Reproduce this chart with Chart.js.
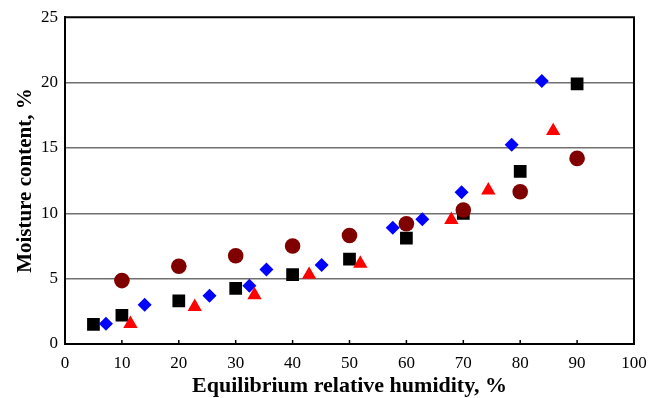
<!DOCTYPE html>
<html>
<head>
<meta charset="utf-8">
<script src="https://cdn.jsdelivr.net/npm/chart.js@4/dist/chart.umd.min.js"></script>
<style>
  html, body { margin: 0; padding: 0; background: #fff; }
  #wrap { width: 661px; height: 398px; }
</style>
</head>
<body>
<div id="wrap"><canvas id="chart"></canvas></div>
<script>
// Moisture content vs equilibrium relative humidity, four sample series.

const SERIF = 'Liberation Serif';

const squareX = [5, 10, 20, 30, 40, 50, 60, 70, 80, 90];
const squareY = [1.5, 2.2, 3.3, 4.25, 5.3, 6.5, 8.1, 10.0, 13.2, 19.9];

const circleX = [10, 20, 30, 40, 50, 60, 70, 80, 90];
const circleY = [4.85, 5.95, 6.75, 7.5, 8.3, 9.2, 10.25, 11.65, 14.2];

const diamondX = [7.2, 14.0, 25.4, 32.4, 35.4, 45.1, 57.6, 62.8, 69.7, 78.5, 83.8];
const diamondY = [1.55, 3.0, 3.7, 4.45, 5.7, 6.05, 8.9, 9.55, 11.6, 15.25, 20.12];

const triangleX = [11.5, 22.8, 33.3, 42.9, 51.9, 67.9, 74.4, 85.8];
const triangleY = [1.55, 2.85, 3.75, 5.3, 6.15, 9.5, 11.75, 16.3];

const xTicks = [0, 10, 20, 30, 40, 50, 60, 70, 80, 90, 100];
const yTicks = [0, 5, 10, 15, 20, 25];

const pts = (xs, ys) => xs.map((x, i) => ({ x, y: ys[i] }));

// frame round the plot and the small inward ticks on the x axis
const framePlugin = {
    id: 'frame',
    afterDraw(chart) {
        const { ctx, chartArea: a, scales } = chart;
        ctx.save();
        ctx.strokeStyle = '#000';
        ctx.lineWidth = 2;
        ctx.beginPath();
        ctx.moveTo(a.left, a.top);
        ctx.lineTo(a.right, a.top);
        ctx.lineTo(a.right, a.bottom);
        ctx.stroke();
        ctx.lineWidth = 1.5;
        xTicks.slice(1, -1).forEach(v => {
            const px = scales.x.getPixelForValue(v);
            ctx.beginPath();
            ctx.moveTo(px, a.bottom);
            ctx.lineTo(px, a.bottom - 4);
            ctx.stroke();
        });
        ctx.restore();
    }
};

new Chart(document.getElementById('chart'), {
    type: 'scatter',
    data: {
        datasets: [
            { data: pts(circleX, circleY), pointStyle: 'circle', pointRadius: 7.8, backgroundColor: '#800000', borderWidth: 0 },
            { data: pts(triangleX, triangleY), pointStyle: 'triangle', pointRadius: 8.3, backgroundColor: '#ff0000', borderWidth: 0 },
            { data: pts(diamondX, diamondY), pointStyle: 'rectRot', pointRadius: 7, backgroundColor: '#0000ff', borderWidth: 0 },
            { data: pts(squareX, squareY), pointStyle: 'rect', pointRadius: 9, backgroundColor: '#000000', borderWidth: 0 }
        ]
    },
    options: {
        responsive: true,
        maintainAspectRatio: false,
        animation: false,
        layout: { padding: { top: 17, right: 27, bottom: 0, left: 0 } },
        plugins: { legend: { display: false }, tooltip: { enabled: false } },
        scales: {
            x: {
                type: 'linear',
                min: 0, max: 100,
                afterBuildTicks: (s) => { s.ticks = xTicks.map(v => ({ value: v })); },
                afterFit: (s) => { s.height = 54; },
                grid: { display: true, drawOnChartArea: false, drawTicks: false },
                border: { color: '#000', width: 2 },
                ticks: { color: '#000', padding: 9, maxRotation: 0, font: { family: SERIF, size: 17 } },
                title: {
                    display: true,
                    text: 'Equilibrium relative humidity, %',
                    color: '#000',
                    padding: { top: 0, bottom: 0 },
                    font: { family: SERIF, size: 22, weight: 'bold', lineHeight: 1.05 }
                }
            },
            y: {
                type: 'linear',
                min: 0, max: 25,
                afterBuildTicks: (s) => { s.ticks = yTicks.map(v => ({ value: v })); },
                afterFit: (s) => { s.width = 65; },
                grid: {
                    drawTicks: false,
                    lineWidth: 1.5,
                    color: (c) => (c.tick && c.tick.value > 0 && c.tick.value < 25) ? '#707070' : 'transparent'
                },
                border: { color: '#000', width: 2 },
                ticks: { color: '#000', padding: 7, font: { family: SERIF, size: 17 } },
                title: {
                    display: true,
                    text: 'Moisture content, %',
                    color: '#000',
                    padding: { top: 13, bottom: 0 },
                    font: { family: SERIF, size: 21, weight: 'bold' }
                }
            }
        }
    },
    plugins: [framePlugin]
});
</script>
</body>
</html>
